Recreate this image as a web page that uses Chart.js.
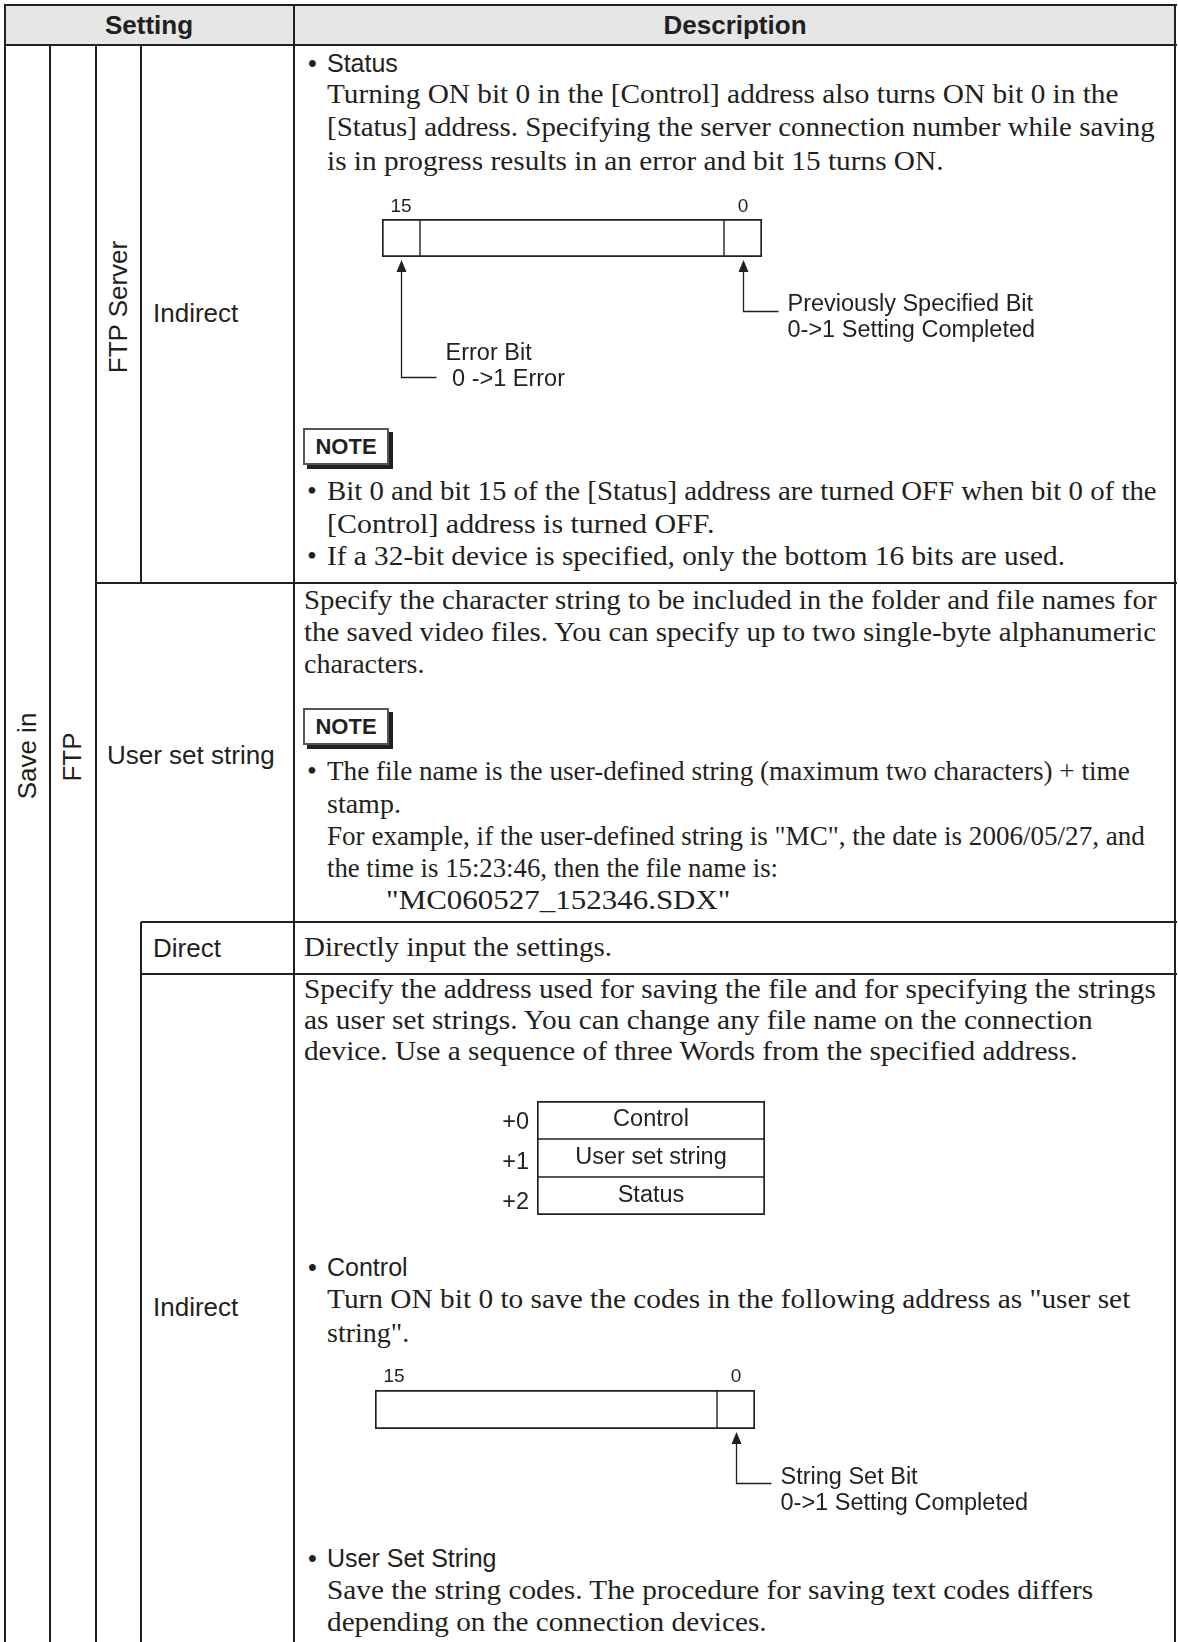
<!DOCTYPE html>
<html>
<head>
<meta charset="utf-8">
<script src="https://cdn.jsdelivr.net/npm/chart.js@4.4.1/dist/chart.umd.min.js"></script>
<style>
  html, body { margin: 0; padding: 0; background: #fff; }
  #page { position: relative; width: 1178px; height: 1642px; overflow: hidden; color: #231f20; }
  .ln { position: absolute; background: #231f20; }
  .hdr { position: absolute; background: #e6e6e6; }
  .t { position: absolute; white-space: pre; line-height: 34px; transform-origin: 0 50%; }
  .serif { font-family: "Liberation Serif", "Times New Roman", serif; font-size: 28px; }
  .sans { font-family: "Liberation Sans", Arial, sans-serif; font-size: 25px; }
  .lbl { font-family: "Liberation Sans", Arial, sans-serif; font-size: 26px; }
  .bold { font-family: "Liberation Sans", Arial, sans-serif; font-size: 26px; font-weight: bold; }
  .mid { transform: translateX(-50%); }
  .rot { transform-origin: 50% 50%; transform: translate(-50%, -50%) rotate(-90deg); }
  .note { position: absolute; width: 82px; height: 33px; border: 2px solid #555; background: #fff;
          box-shadow: 4px 4px 0 #231f20; font: bold 22px "Liberation Sans", Arial, sans-serif;
          text-align: center; line-height: 33px; }
  canvas { position: absolute; }
</style>
</head>
<body>
<div id="page">
  <!-- header band and grid lines -->
  <div class="hdr" style="left:5px;top:5px;width:1170px;height:39px"></div>
  <div class="ln" style="left:4px;top:4px;width:1173px;height:2px"></div>
  <div class="ln" style="left:4px;top:44px;width:1173px;height:2px"></div>
  <div class="ln" style="left:96px;top:582px;width:1081px;height:2px"></div>
  <div class="ln" style="left:141px;top:921px;width:1036px;height:2px"></div>
  <div class="ln" style="left:141px;top:973px;width:1036px;height:2px"></div>
  <div class="ln" style="left:4px;top:4px;width:2px;height:1638px"></div>
  <div class="ln" style="left:49px;top:45px;width:2px;height:1597px"></div>
  <div class="ln" style="left:95px;top:45px;width:2px;height:1597px"></div>
  <div class="ln" style="left:140px;top:45px;width:2px;height:538px"></div>
  <div class="ln" style="left:140px;top:922px;width:2px;height:720px"></div>
  <div class="ln" style="left:293px;top:4px;width:2px;height:1638px"></div>
  <div class="ln" style="left:1174px;top:4px;width:2px;height:1638px"></div>

  <!-- header -->
  <div class="t bold mid" style="left:149px" data-y="25">Setting</div>
  <div class="t bold mid" style="left:735px" data-y="25">Description</div>

  <!-- setting column -->
  <div class="t lbl rot" style="left:27px;top:756px">Save in</div>
  <div class="t lbl rot" style="left:72px;top:757px">FTP</div>
  <div class="t lbl rot" style="left:118px;top:307px">FTP Server</div>
  <div class="t lbl" style="left:153px" data-y="313">Indirect</div>
  <div class="t lbl" style="left:107px" data-y="755">User set string</div>
  <div class="t lbl" style="left:153px" data-y="948">Direct</div>
  <div class="t lbl" style="left:153px" data-y="1307">Indirect</div>

  <!-- FTP Server / Indirect -->
  <div class="t sans" style="left:308px" data-y="63">•</div>
  <div class="t sans" style="left:327px" data-y="63">Status</div>
  <div class="t serif" style="left:327px" data-y="95" data-r="1118">Turning ON bit 0 in the [Control] address also turns ON bit 0 in the</div>
  <div class="t serif" style="left:327px" data-y="128" data-r="1155">[Status] address. Specifying the server connection number while saving</div>
  <div class="t serif" style="left:327px" data-y="162" data-r="943">is in progress results in an error and bit 15 turns ON.</div>
  <canvas id="statusChart" width="720" height="200" style="left:330px;top:190px"></canvas>
  <div class="note" style="left:303px;top:428px">NOTE</div>
  <div class="t serif" style="left:307px" data-y="492">•</div>
  <div class="t serif" style="left:327px" data-y="492" data-r="1157">Bit 0 and bit 15 of the [Status] address are turned OFF when bit 0 of the</div>
  <div class="t serif" style="left:327px" data-y="525" data-r="715">[Control] address is turned OFF.</div>
  <div class="t serif" style="left:307px" data-y="557">•</div>
  <div class="t serif" style="left:327px" data-y="557" data-r="1065">If a 32-bit device is specified, only the bottom 16 bits are used.</div>

  <!-- User set string -->
  <div class="t serif" style="left:304px" data-y="601" data-r="1156">Specify the character string to be included in the folder and file names for</div>
  <div class="t serif" style="left:304px" data-y="633" data-r="1156">the saved video files. You can specify up to two single-byte alphanumeric</div>
  <div class="t serif" style="left:304px" data-y="665">characters.</div>
  <div class="note" style="left:303px;top:708px">NOTE</div>
  <div class="t serif" style="left:307px" data-y="772">•</div>
  <div class="t serif" style="left:327px" data-y="772" data-r="1130">The file name is the user-defined string (maximum two characters) + time</div>
  <div class="t serif" style="left:327px" data-y="805">stamp.</div>
  <div class="t serif" style="left:327px" data-y="837" data-r="1145">For example, if the user-defined string is "MC", the date is 2006/05/27, and</div>
  <div class="t serif" style="left:327px" data-y="869" data-r="778">the time is 15:23:46, then the file name is:</div>
  <div class="t serif" style="left:386px" data-y="901" data-r="730">"MC060527_152346.SDX"</div>

  <!-- Direct -->
  <div class="t serif" style="left:304px" data-y="948" data-r="612">Directly input the settings.</div>

  <!-- Indirect -->
  <div class="t serif" style="left:304px" data-y="990" data-r="1156">Specify the address used for saving the file and for specifying the strings</div>
  <div class="t serif" style="left:304px" data-y="1021" data-r="1093">as user set strings. You can change any file name on the connection</div>
  <div class="t serif" style="left:304px" data-y="1052" data-r="1078">device. Use a sequence of three Words from the specified address.</div>
  <canvas id="wordChart" width="320" height="140" style="left:480px;top:1090px"></canvas>
  <div class="t sans" style="left:308px" data-y="1267">•</div>
  <div class="t sans" style="left:327px" data-y="1267">Control</div>
  <div class="t serif" style="left:327px" data-y="1300" data-r="1130">Turn ON bit 0 to save the codes in the following address as "user set</div>
  <div class="t serif" style="left:327px" data-y="1334">string".</div>
  <canvas id="controlChart" width="720" height="175" style="left:330px;top:1360px"></canvas>
  <div class="t sans" style="left:308px" data-y="1558">•</div>
  <div class="t sans" style="left:327px" data-y="1558">User Set String</div>
  <div class="t serif" style="left:327px" data-y="1591" data-r="1093">Save the string codes. The procedure for saving text codes differs</div>
  <div class="t serif" style="left:327px" data-y="1623" data-r="767">depending on the connection devices.</div>
</div>

<script>
// register cells as drawn: bit 15 | middle bits | bit 0
const statusCells = [1, 8, 1];
const controlCells = [9, 1];
const bitLabels = ['15', '0'];
const errorNote = ['Error Bit', ' 0 ->1 Error'];
const doneNote = ['Previously Specified Bit', '0->1 Setting Completed'];
const stringNote = ['String Set Bit', '0->1 Setting Completed'];

// word layout from the specified address
const wordOffsets = ['+0', '+1', '+2'];
const wordNames = ['Control', 'User set string', 'Status'];
const wordSize = [1, 1, 1];

const INK = '#231f20';
const SANS = '"Liberation Sans", Arial, sans-serif';

// place text lines by their vertical centre, squeeze/stretch to measured right edge
document.querySelectorAll('.t[data-y]').forEach(el => {
    const y = parseFloat(el.dataset.y);
    el.style.top = (y - (el.classList.contains('serif') ? 18.5 : 17)) + 'px';
});
document.querySelectorAll('.t[data-r]').forEach(el => {
    const left = parseFloat(el.style.left);
    const s = (parseFloat(el.dataset.r) - left) / el.offsetWidth;
    el.style.transform = 'scaleX(' + Math.min(1.2, Math.max(0.8, s)).toFixed(4) + ')';
});

// bit numbers above the register and the leader arrows under it
const bitNotesPlugin = {
    id: 'bitNotes',
    afterDatasetsDraw(chart, args, opts) {
        const { ctx, chartArea: a, scales: { x } } = chart;
        const cells = chart.data.datasets.map(d => d.data[0]);
        const total = cells.reduce((s, w) => s + w, 0);
        ctx.save();
        ctx.fillStyle = INK;
        ctx.strokeStyle = INK;
        ctx.font = '19px ' + SANS;
        ctx.textAlign = 'center';
        ctx.textBaseline = 'middle';
        ctx.fillText(bitLabels[0], x.getPixelForValue(0.5), a.top + opts.tickOffset);
        ctx.fillText(bitLabels[1], x.getPixelForValue(total - 0.5), a.top + opts.tickOffset);

        opts.notes.forEach(n => {
            const start = cells.slice(0, n.cell).reduce((s, w) => s + w, 0);
            const px = Math.round(x.getPixelForValue(start + cells[n.cell] / 2)) + 0.5;
            const elbow = Math.round(a.bottom + n.drop) + 0.5;
            ctx.beginPath();
            ctx.moveTo(px, a.bottom + 3);
            ctx.lineTo(px - 5, a.bottom + 15);
            ctx.lineTo(px + 5, a.bottom + 15);
            ctx.closePath();
            ctx.fill();
            ctx.lineWidth = 1.3;
            ctx.beginPath();
            ctx.moveTo(px, a.bottom + 12);
            ctx.lineTo(px, elbow);
            ctx.lineTo(px + 35, elbow);
            ctx.stroke();
            ctx.font = '23.5px ' + SANS;
            ctx.textAlign = 'left';
            n.text.forEach((s, i) => ctx.fillText(s, px + 44, elbow + n.shift + i * 26));
        });
        ctx.restore();
    }
};

function registerChart(id, cells, notes, padding, tickOffset) {
    const last = cells.length - 1;
    return new Chart(document.getElementById(id), {
        type: 'bar',
        data: {
            labels: ['word'],
            datasets: cells.map((w, i) => ({
                data: [w],
                backgroundColor: '#fff',
                borderColor: INK,
                borderWidth: { top: 2, bottom: 2, left: i === 0 ? 2 : 1, right: i === last ? 2 : 1 },
                borderSkipped: false,
                barPercentage: 1,
                categoryPercentage: 1
            }))
        },
        options: {
            indexAxis: 'y',
            responsive: false,
            animation: false,
            devicePixelRatio: 1,
            events: [],
            layout: { padding },
            scales: {
                x: { stacked: true, display: false, min: 0, max: cells.reduce((s, w) => s + w, 0) },
                y: { stacked: true, display: false }
            },
            plugins: {
                legend: { display: false },
                tooltip: { enabled: false },
                bitNotes: { notes, tickOffset }
            }
        },
        plugins: [bitNotesPlugin]
    });
}

registerChart('statusChart', statusCells, [
    { cell: 0, text: errorNote, drop: 120, shift: -24 },
    { cell: 2, text: doneNote, drop: 54, shift: -7 }
], { left: 52, right: 288, top: 29, bottom: 133 }, -12);

registerChart('controlChart', controlCells, [
    { cell: 1, text: stringNote, drop: 54, shift: -6 }
], { left: 45, right: 295, top: 30, bottom: 106 }, -13);

// word map: offset on the left, name inside each row
const wordLabelsPlugin = {
    id: 'wordLabels',
    afterDatasetsDraw(chart) {
        const { ctx, chartArea: a, scales: { y } } = chart;
        ctx.save();
        ctx.fillStyle = INK;
        ctx.font = '23.5px ' + SANS;
        ctx.textBaseline = 'middle';
        wordOffsets.forEach((lab, i) => {
            const cy = y.getPixelForValue(i);
            ctx.textAlign = 'right';
            ctx.fillText(lab, a.left - 8, cy + 3 + i * 2);
            ctx.textAlign = 'center';
            ctx.fillText(wordNames[i], (a.left + a.right) / 2, cy);
        });
        ctx.restore();
    }
};

new Chart(document.getElementById('wordChart'), {
    type: 'bar',
    data: {
        labels: wordOffsets,
        datasets: [{
            data: wordSize,
            backgroundColor: '#fff',
            borderColor: INK,
            borderWidth: c => ({
                top: c.dataIndex === 0 ? 2 : 1,
                bottom: c.dataIndex === wordSize.length - 1 ? 2 : 1,
                left: 2,
                right: 2
            }),
            borderSkipped: false,
            barPercentage: 1,
            categoryPercentage: 1
        }]
    },
    options: {
        indexAxis: 'y',
        responsive: false,
        animation: false,
        devicePixelRatio: 1,
        events: [],
        layout: { padding: { left: 57, right: 35, top: 11, bottom: 15 } },
        scales: {
            x: { display: false, min: 0, max: 1 },
            y: { display: false }
        },
        plugins: { legend: { display: false }, tooltip: { enabled: false } }
    },
    plugins: [wordLabelsPlugin]
});
</script>
</body>
</html>
